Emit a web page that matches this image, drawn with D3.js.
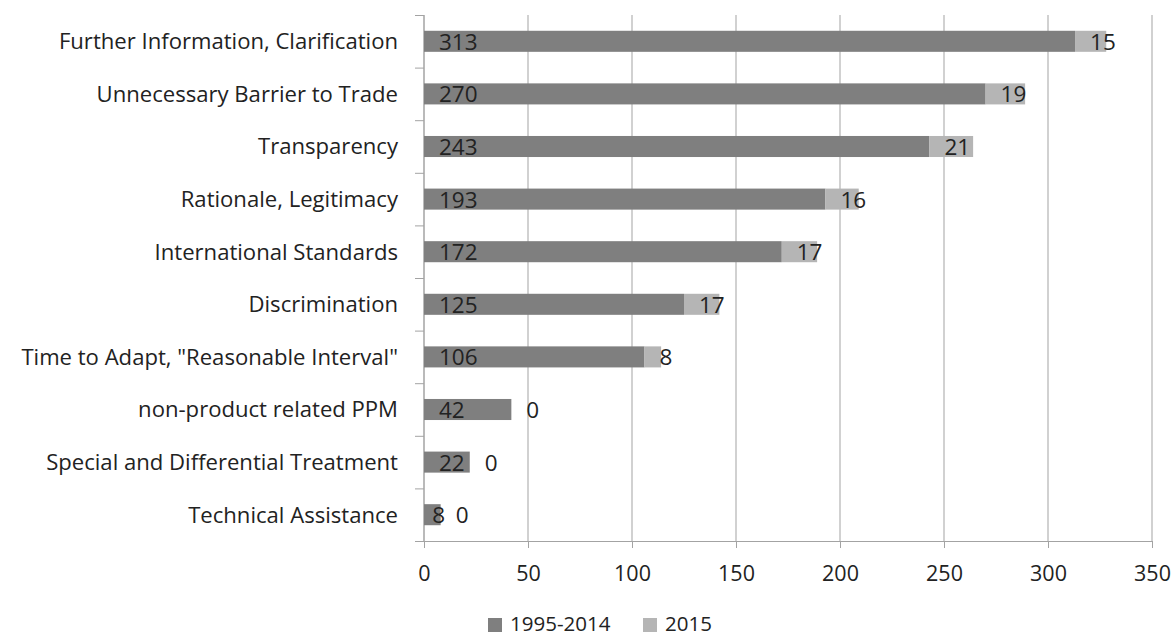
<!DOCTYPE html>
<html>
<head>
<meta charset="utf-8">
<script src="https://cdn.jsdelivr.net/npm/d3@7"></script>
<style>
  body { margin: 0; background: #fff; }
  svg { display: block; font-family: "Open Sans", "Liberation Sans", Arial, sans-serif; }
</style>
</head>
<body>
<svg id="chart" width="1173" height="637"></svg>
<script>
const categories = [
  "Further Information, Clarification",
  "Unnecessary Barrier to Trade",
  "Transparency",
  "Rationale, Legitimacy",
  "International Standards",
  "Discrimination",
  "Time to Adapt, \"Reasonable Interval\"",
  "non-product related PPM",
  "Special and Differential Treatment",
  "Technical Assistance"
];
const seriesNames = ["1995-2014", "2015"];
const values1995 = [313, 270, 243, 193, 172, 125, 106, 42, 22, 8];
const values2015 = [15, 19, 21, 16, 17, 17, 8, 0, 0, 0];
const xTicks = [0, 50, 100, 150, 200, 250, 300, 350];

const COLORS = ["#7f7f7f", "#b5b5b5"];
const TEXT = "#222";
const GRID = "#a3a3a3";
const FONT = "Open Sans, Liberation Sans, Arial, sans-serif";

const margin = { top: 15, left: 424, right: 21, bottom: 96 };
const width = 1173, height = 637;
const svg = d3.select("#chart");

const x = d3.scaleLinear().domain([0, 350]).range([margin.left, width - margin.right]);
const y = d3.scaleBand().domain(categories)
  .range([margin.top, height - margin.bottom])
  .paddingInner(0.6).paddingOuter(0.3);

// row boundaries for the category axis ticks
const rows = d3.scaleLinear().domain([0, categories.length]).range(y.range());

// vertical gridlines
svg.append("g")
  .selectAll("line").data(xTicks).enter().append("line")
  .attr("x1", d => x(d)).attr("x2", d => x(d))
  .attr("y1", margin.top).attr("y2", height - margin.bottom)
  .attr("stroke", GRID).attr("stroke-width", 1);

// x axis
const xAxis = svg.append("g")
  .attr("transform", `translate(0,${height - margin.bottom})`)
  .call(d3.axisBottom(x).tickValues(xTicks).tickSize(7).tickPadding(18));
xAxis.select(".domain").attr("stroke", GRID);
xAxis.selectAll(".tick line").attr("stroke", GRID);
xAxis.selectAll("text").attr("fill", TEXT).style("font-size", "21.5px")
  .style("font-family", FONT);

// y axis: line + ticks at row boundaries
const yAxis = svg.append("g")
  .attr("transform", `translate(${margin.left},0)`)
  .call(d3.axisLeft(rows).tickValues(d3.range(categories.length + 1)).tickSize(9).tickFormat(""));
yAxis.select(".domain").attr("stroke", GRID).attr("d", `M0,${margin.top}V${height - margin.bottom}`);
yAxis.selectAll(".tick line").attr("stroke", GRID);

// category labels
svg.append("g")
  .selectAll("text").data(categories).enter().append("text")
  .attr("x", margin.left - 26)
  .attr("y", d => y(d) + y.bandwidth() / 2)
  .attr("dy", "0.36em")
  .attr("text-anchor", "end")
  .attr("fill", TEXT)
  .style("font-size", "22.1px")
  .text(d => d);

// stacked bars
const rowsData = categories.map((c, i) => ({ c, a: values1995[i], b: values2015[i] }));

const bars = svg.append("g");
bars.selectAll("rect.s1").data(rowsData).enter().append("rect")
  .attr("class", "s1")
  .attr("x", x(0))
  .attr("y", d => y(d.c))
  .attr("width", d => x(d.a) - x(0))
  .attr("height", y.bandwidth())
  .attr("fill", COLORS[0]);
bars.selectAll("rect.s2").data(rowsData).enter().append("rect")
  .attr("class", "s2")
  .attr("x", d => x(d.a))
  .attr("y", d => y(d.c))
  .attr("width", d => x(d.a + d.b) - x(d.a))
  .attr("height", y.bandwidth())
  .attr("fill", COLORS[1]);

// data labels (inside base)
const labels = svg.append("g").attr("fill", TEXT).style("font-size", "22.5px");
labels.selectAll("text.l1").data(rowsData).enter().append("text")
  .attr("x", d => x(0) + Math.min(15, (x(d.a) - x(0)) / 2))
  .attr("y", d => y(d.c) + y.bandwidth() / 2)
  .attr("dy", "0.38em")
  .text(d => d.a);
labels.selectAll("text.l2").data(rowsData).enter().append("text")
  .attr("x", d => x(d.a) + 15)
  .attr("y", d => y(d.c) + y.bandwidth() / 2)
  .attr("dy", "0.38em")
  .text(d => d.b);

// legend
const legend = svg.append("g").attr("transform", "translate(488,624)");
const legendX = [0, 155];
seriesNames.forEach((name, i) => {
  const g = legend.append("g").attr("transform", `translate(${legendX[i]},0)`);
  g.append("rect").attr("x", 0).attr("y", -6).attr("width", 14).attr("height", 14).attr("fill", COLORS[i]);
  g.append("text").attr("x", 22).attr("dy", "0.36em").attr("fill", TEXT)
    .style("font-size", "20.5px").text(name);
});
</script>
</body>
</html>
